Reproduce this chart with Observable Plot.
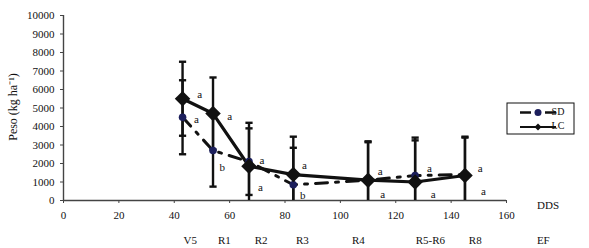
<!DOCTYPE html>
<html>
<head>
<meta charset="utf-8">
<script src="https://cdn.jsdelivr.net/npm/d3@7"></script>
<script src="https://cdn.jsdelivr.net/npm/@observablehq/plot@0.6"></script>
<style>
  html, body { margin: 0; padding: 0; background: #fff; }
  #chart { width: 589px; height: 248px; }
</style>
</head>
<body>
<div id="chart"></div>
<script>
// ---- data ----
const dds = [43, 54, 67, 83, 110, 127, 145];
const lcValues = [5500, 4700, 1850, 1400, 1100, 1000, 1350];
const lcErrors = [2000, 1950, 2350, 2050, 2100, 2250, 2100];
const sdValues = [4500, 2700, 2100, 850, 1100, 1350, 1400];
const sdErrors = [2000, 1950, 1800, 2000, 2050, 2050, 2000];

const letterX = [49.2, 48.0, 60.0, 57.3, 71.7, 71.1, 87.0, 86.4, 114.4, 115.3, 132.2, 133.5, 150.5, 151.7];
const letterY = [5710, 4360, 4540, 1770, 2160, 720, 1890, 270, 1580, 320, 1710, 320, 1710, 490];
const letterText = ["a", "a", "a", "b", "a", "a", "a", "b", "a", "a", "a", "a", "a", "a"];

const stageNames = ["V5", "R1", "R2", "R3", "R4", "R5-R6", "R8", "EF"];
const stageX = [45.8, 58.1, 71.4, 86.3, 106.5, 132.5, 148.7, 173.3];

const xTicks = [0, 20, 40, 60, 80, 100, 120, 140, 160];
const yTicks = [0, 1000, 2000, 3000, 4000, 5000, 6000, 7000, 8000, 9000, 10000];

const lc = dds.map((x, i) => ({x, y: lcValues[i], e: lcErrors[i]}));
const sd = dds.map((x, i) => ({x, y: sdValues[i], e: sdErrors[i]}));
const both = lc.concat(sd);
const letters = letterX.map((x, i) => ({x, y: letterY[i], t: letterText[i]}));
const stages = stageNames.map((s, i) => ({s, x: stageX[i]}));

const capHalf = 1.3;
const ink = "#111";

const chart = Plot.plot({
  width: 589,
  height: 248,
  marginLeft: 63,
  marginRight: 83,
  marginTop: 15,
  marginBottom: 48,
  style: {fontFamily: "'Liberation Serif', 'Times New Roman', serif", fontSize: "11px", background: "#fff", color: "#111"},
  x: {domain: [0, 160]},
  y: {domain: [0, 10000]},
  marks: [
    Plot.axisY({ticks: yTicks, tickSize: 3, tickPadding: 6, tickFormat: d => String(d), label: null, stroke: "#444"}),
    Plot.axisX({ticks: xTicks, tickSize: 3, tickPadding: 8, tickFormat: d => String(d), label: null, stroke: "#444"}),
    Plot.ruleX([0], {stroke: "#444", strokeWidth: 1.4}),
    Plot.ruleY([0], {stroke: "#444", strokeWidth: 1.4}),
    // error bars
    Plot.ruleX(both, {x: "x", y1: d => Math.max(0, d.y - d.e), y2: d => d.y + d.e, stroke: ink, strokeWidth: 2.4}),
    Plot.link(both, {x1: d => d.x - capHalf, x2: d => d.x + capHalf, y1: d => d.y + d.e, y2: d => d.y + d.e, stroke: ink, strokeWidth: 2.4}),
    Plot.link(both.filter(d => d.y - d.e > 0), {x1: d => d.x - capHalf, x2: d => d.x + capHalf, y1: d => d.y - d.e, y2: d => d.y - d.e, stroke: ink, strokeWidth: 2.4}),
    // lines
    Plot.line(sd, {x: "x", y: "y", stroke: ink, strokeWidth: 3, strokeDasharray: "12,8,3,8"}),
    Plot.line(lc, {x: "x", y: "y", stroke: ink, strokeWidth: 3.2}),
    Plot.dot(sd, {x: "x", y: "y", r: 3.8, fill: "#1c1f5c", stroke: null}),
    Plot.dot(lc, {x: "x", y: "y", symbol: "diamond2", r: 7, fill: ink, stroke: null}),
    // letters
    Plot.text(letters, {x: "x", y: "y", text: "t", fill: ink, fontSize: 11}),
    // stage labels
    Plot.text(stages, {x: "x", text: "s", frameAnchor: "bottom", dy: 40, lineAnchor: "middle", fill: ink, fontSize: 11}),
    Plot.text(["DDS"], {x: 175, frameAnchor: "bottom", dy: 5, lineAnchor: "middle", fill: ink, fontSize: 11})
  ]
});

const svg = d3.select(chart);
svg.attr("overflow", "visible");
// y-axis title
svg.append("text")
  .attr("transform", "translate(14,107) rotate(-90)")
  .attr("text-anchor", "middle")
  .attr("dominant-baseline", "middle")
  .attr("font-size", 12)
  .attr("fill", ink)
  .text("Peso (kg ha⁻¹)");

// legend
const lg = svg.append("g").attr("font-size", 10).attr("fill", ink);
lg.append("rect").attr("x", 507).attr("y", 103).attr("width", 67).attr("height", 31)
  .attr("fill", "#fff").attr("stroke", ink).attr("stroke-width", 1);
lg.append("line").attr("x1", 520).attr("x2", 531).attr("y1", 112.5).attr("y2", 112.5).attr("stroke", ink).attr("stroke-width", 2.5);
lg.append("line").attr("x1", 545).attr("x2", 556).attr("y1", 112.5).attr("y2", 112.5).attr("stroke", ink).attr("stroke-width", 2.5);
lg.append("circle").attr("cx", 538).attr("cy", 112.5).attr("r", 3.5).attr("fill", "#1c1f5c");
lg.append("text").attr("x", 558).attr("y", 112.5).attr("dominant-baseline", "middle").text("SD");
lg.append("line").attr("x1", 520).attr("x2", 556).attr("y1", 127).attr("y2", 127).attr("stroke", ink).attr("stroke-width", 2);
lg.append("path").attr("d", "M538,123.5L541.5,127L538,130.5L534.5,127Z").attr("fill", ink);
lg.append("text").attr("x", 558).attr("y", 127).attr("dominant-baseline", "middle").text("LC");

document.getElementById("chart").appendChild(chart);
</script>
</body>
</html>
